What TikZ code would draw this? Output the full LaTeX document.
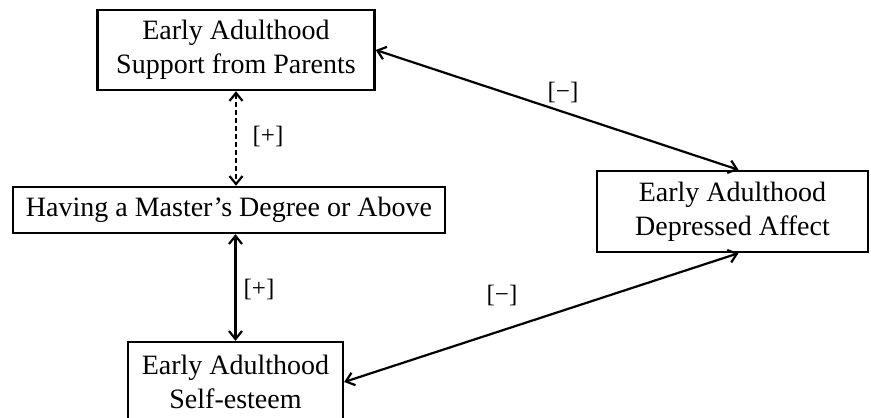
\documentclass[tikz,border=0pt]{standalone}
\usepackage{fontspec}
\setmainfont{Liberation Serif}
\usetikzlibrary{arrows.meta}
\begin{document}
\begin{tikzpicture}[x=1pt,y=1pt,
  box/.style={draw, line width=2.4pt, inner sep=0pt, align=center,
    font=\fontsize{28}{34}\selectfont},
  link/.style={line width=2.2pt, {Straight Barb[length=8pt,width=13pt]}-{Straight Barb[length=8pt,width=13pt]}},
  sign/.style={font=\fontsize{25}{28}\selectfont}]
\useasboundingbox (0,0) rectangle (871,418);
\fill[white] (0,0) rectangle (871,418);
% boxes
\node[box, minimum width=277pt, minimum height=80pt] (parents) at (236,368) {Early Adulthood\\Support from Parents};
\node[box, minimum width=432pt, minimum height=46pt] (degree) at (229,208) {Having a Master’s Degree or Above};
\node[box, minimum width=215pt, minimum height=80pt] (esteem) at (235.5,36) {Early Adulthood\\Self-esteem};
\node[box, minimum width=271pt, minimum height=81pt] (affect) at (732.5,206.5) {Early Adulthood\\Depressed Affect};
% connectors
\draw[link, dashed, dash pattern=on 5pt off 3pt] (parents.south) -- (degree.north -| parents.south);
\draw[link] (degree.south -| esteem.north) -- (esteem.north);
\draw[link] (parents.east) -- ([xshift=6pt]affect.north);
\draw[link] (esteem.east) -- ([xshift=6pt]affect.south);
% labels
\node[sign] (l1) at (268,281) {[+]};
\node[sign] (l2) at (259,128) {[+]};
\node[sign] (l3) at (563,325) {[−]};
\node[sign] (l4) at (502,122) {[−]};
\end{tikzpicture}
\end{document}
